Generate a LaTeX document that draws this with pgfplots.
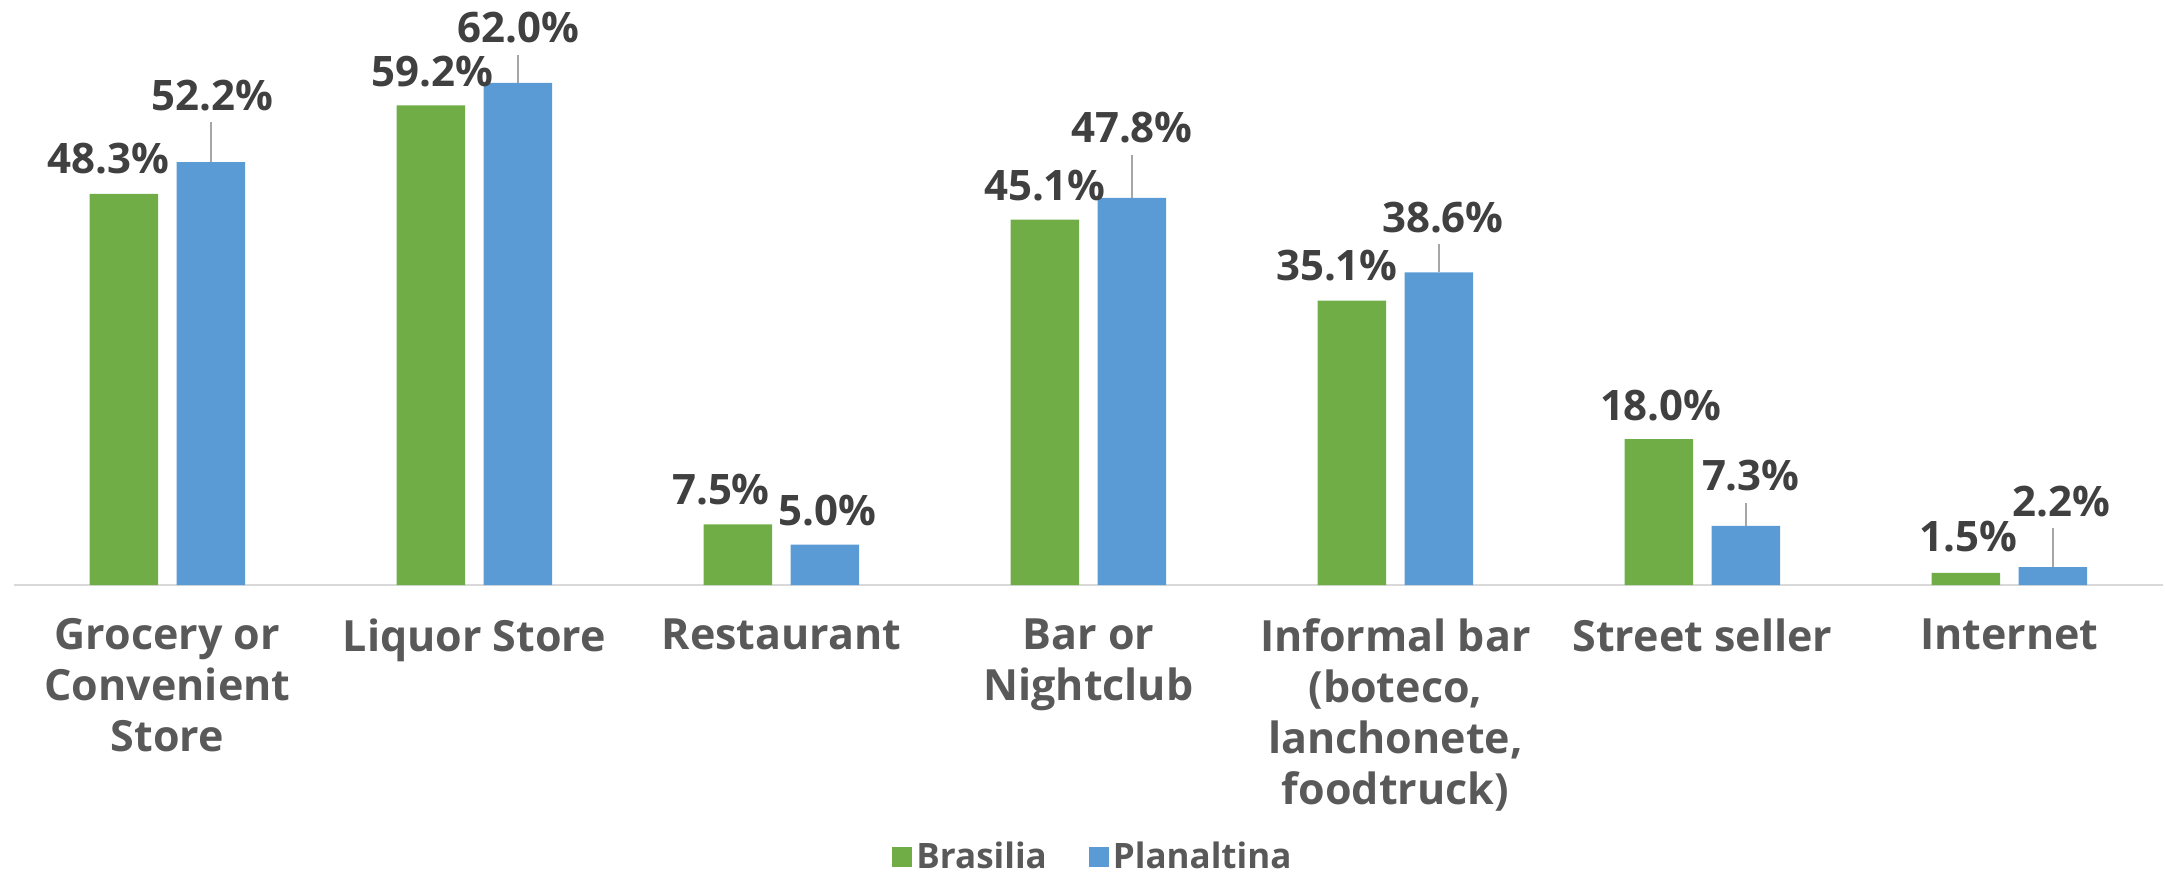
\documentclass[border=0pt]{standalone}
\usepackage{fontspec}
\setmainfont{Open Sans}
\usepackage{pgfplots}
\pgfplotsset{compat=1.18}
\usepackage{pgfplotstable}
\definecolor{cgreen}{HTML}{70AD47}
\definecolor{cblue}{HTML}{5B9BD5}
\definecolor{lbl}{HTML}{404040}
\definecolor{tck}{HTML}{595959}
\definecolor{axl}{HTML}{D9D9D9}
\definecolor{lead}{HTML}{A6A6A6}

\pgfplotstableread{
x y dx dy
0 48.3 -8 10
1 59.2 0.5 9.5
2 7.5 -8.5 10
3 45.1 0 9.5
4 35.1 -7.5 10
5 18.0 1 9.5
6 1.5 1.5 10.5
}\brasilia

\pgfplotstableread{
x y dx dy err
0 52.2 0.5 26 4.94
1 62.0 0 20 3.46
2 5.0 1 9.5 0
3 47.8 0 27.5 5.31
4 38.6 2 20 3.46
5 7.3 2.5 17.5 2.84
6 2.2 4.5 25.5 4.81
}\planaltina

\begin{document}
\begin{tikzpicture}
\path[use as bounding box] (0,0) rectangle (1082.5pt,437pt);
\begin{axis}[
  at={(7pt,144.5pt)}, anchor=south west,
  scale only axis, width=1074.5pt, height=291.6pt,
  xmin=-0.5, xmax=6.5, ymin=0, ymax=72,
  ybar=9.25pt, bar width=34.25pt,
  axis x line*=bottom, axis y line=none,
  x axis line style={draw=axl, line width=1pt, -},
  xtick={0,1,2,3,4,5,6},
  xticklabels={{Grocery or\\Convenient\\Store},{Liquor Store},{Restaurant},{Bar or\\Nightclub},{Informal bar\\(boteco,\\lanchonete,\\foodtruck)},{Street seller},{Internet}},
  major tick length=0pt,
  xticklabel style={align=center, anchor=north, inner sep=0pt, yshift=-16.5pt,
    font=\fontsize{21.5}{25.5}\selectfont\bfseries, text=tck},
  clip=false,
  nodes near coords={\pgfmathprintnumber[fixed,fixed zerofill,precision=1,assume math mode=true]{\pgfplotspointmeta}\%},
  legend columns=2,
  legend style={at={(0.5026,-0.4664)}, anchor=center, draw=none, fill=none,
    font=\fontsize{17.5}{21}\selectfont\bfseries, text=tck,
    /tikz/every even column/.append style={column sep=19pt}},
  legend image code/.code={\fill[#1] (0pt,-5pt) rectangle (10pt,5pt);},
]
\addplot[fill=cgreen, draw=none,
  visualization depends on={\thisrow{dx} \as \lblx},
  visualization depends on={\thisrow{dy} \as \lbly},
  every node near coord/.append style={anchor=base, xshift=\lblx pt, yshift=\lbly pt,
    font=\fontsize{21}{25}\selectfont\bfseries, text=lbl, inner sep=0pt}]
  table[x=x,y=y]{\brasilia};
\addlegendentry{Brasilia}
\addplot[fill=cblue, draw=none,
  visualization depends on={\thisrow{dx} \as \lblx},
  visualization depends on={\thisrow{dy} \as \lbly},
  every node near coord/.append style={anchor=base, xshift=\lblx pt, yshift=\lbly pt,
    font=\fontsize{21}{25}\selectfont\bfseries, text=lbl, inner sep=0pt},
  error bars/.cd, y dir=plus, y explicit, error mark=none,
  error bar style={draw=lead, line width=0.75pt}]
  table[x=x,y=y,y error=err]{\planaltina};
\addlegendentry{Planaltina}
\end{axis}
\end{tikzpicture}
\end{document}
